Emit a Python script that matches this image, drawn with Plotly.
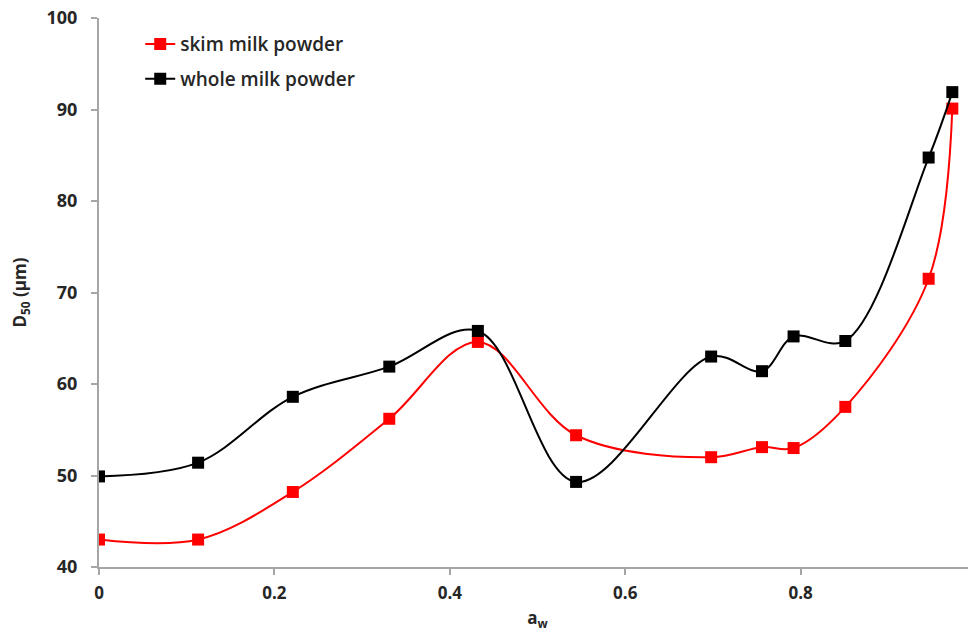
import plotly.graph_objects as go

aw = [0.0, 0.113, 0.221, 0.331, 0.432, 0.544, 0.698, 0.756, 0.792, 0.851, 0.946, 0.973]
skim = [43.0, 43.0, 48.2, 56.2, 64.6, 54.4, 52.0, 53.1, 53.0, 57.5, 71.5, 90.1]
whole = [49.9, 51.4, 58.6, 61.9, 65.8, 49.3, 63.0, 61.4, 65.2, 64.7, 84.75, 91.9]
y_ticks = [40, 50, 60, 70, 80, 90, 100]
x_ticks = [0, 0.2, 0.4, 0.6, 0.8, 1]
x_tick_labels = ["0", "0.2", "0.4", "0.6", "0.8", "1"]

FONT = "Open Sans"
TXT = "#262626"
AX = "#a6a6a6"

fig = go.Figure()
fig.add_trace(go.Scatter(
    x=aw, y=skim, name="skim milk powder", mode="lines+markers",
    line=dict(color="#ff0000", width=2, shape="spline", smoothing=1.0),
    marker=dict(symbol="square", size=12, color="#ff0000"),
    legendgroup="a",
))
fig.add_trace(go.Scatter(
    x=aw, y=whole, name="whole milk powder", mode="lines+markers",
    line=dict(color="#000000", width=2, shape="spline", smoothing=1.0),
    marker=dict(symbol="square", size=12, color="#000000"),
    legendgroup="b",
))

fig.update_layout(
    width=968, height=623,
    margin=dict(l=91, r=0, t=10, b=64),
    paper_bgcolor="white", plot_bgcolor="white",
    font=dict(family=FONT, size=17, color=TXT, weight="bold"),
    showlegend=True,
    legend=dict(x=0.047, y=0.987, xanchor="left", yanchor="top",
                bgcolor="rgba(0,0,0,0)", traceorder="grouped",
                tracegroupgap=7, itemwidth=30,
                font=dict(family=FONT, size=19, color=TXT, weight=600)),
    xaxis=dict(
        range=[0, 1], tickvals=x_ticks, ticktext=x_tick_labels,
        automargin=False, ticklabeloverflow="allow",
        showgrid=False, zeroline=False, showline=True, linecolor=AX, linewidth=2,
        ticks="outside", ticklen=6, tickcolor=AX, tickwidth=2,
        ticklabelstandoff=4,
        tickfont=dict(family=FONT, size=17, color=TXT, weight="bold"),
        title=dict(text="a<sub>w</sub>", standoff=12,
                   font=dict(family=FONT, size=17, color=TXT, weight="bold")),
    ),
    yaxis=dict(
        range=[40, 100], tickvals=y_ticks,
        automargin=False, ticklabeloverflow="allow",
        showgrid=False, zeroline=False, showline=True, linecolor=AX, linewidth=2,
        ticks="outside", ticklen=6, tickcolor=AX, tickwidth=2,
        ticklabelstandoff=10,
        tickfont=dict(family=FONT, size=18, color=TXT, weight="bold"),
        title=dict(text="D<sub>50</sub> (µm)", standoff=19,
                   font=dict(family=FONT, size=17, color=TXT, weight="bold")),
    ),
)

fig.write_html("out.html")
